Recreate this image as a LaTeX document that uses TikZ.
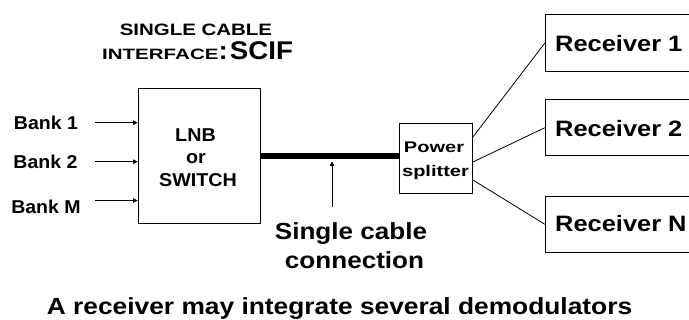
\documentclass[tikz,border=0pt]{standalone}
\usepackage{fontspec}
\setmainfont{Liberation Sans}
\usepackage{graphicx}
\usetikzlibrary{arrows.meta}
\newcommand\ftx[3]{\scalebox{#2}[1]{\fontsize{#1pt}{#1pt}\selectfont\bfseries #3}}
\begin{document}
\begin{tikzpicture}[x=1pt,y=-1pt,
  box/.style={draw=black, line width=0.8pt, inner sep=0pt},
  txt/.style={inner sep=0pt, anchor=base},
  conn/.style={line width=0.8pt},
  arr/.style={line width=0.8pt, -{Triangle[length=4.5pt,width=4.5pt]}},
  cable/.style={line width=5.3pt}]
\useasboundingbox (0,0) rectangle (689,320);
\clip (0,0) rectangle (689,320);

% boxes
\node[box, minimum width=122pt, minimum height=135pt] (lnb) at (199,155.5) {};
\node[box, minimum width=73.5pt, minimum height=70pt] (split) at (435.75,158) {};
\node[box, anchor=north west, minimum width=180pt, minimum height=57pt] (r1) at (545,14) {};
\node[box, anchor=north west, minimum width=180pt, minimum height=56.5pt] (r2) at (545,99) {};
\node[box, anchor=north west, minimum width=180pt, minimum height=56pt] (rn) at (545,196) {};

% title
\node[txt] (title1) at (196,35.5) {\ftx{16.5}{1.24}{SINGLE CABLE}};
\node[txt] (title2) at (197.5,59.5) {\ftx{15}{1.37}{INTERFACE}\ftx{25.6}{1.08}{:\hspace{2pt}SCIF}};

% bank labels
\node[txt] (bank1) at (46,129.7) {\ftx{18.6}{1.05}{Bank 1}};
\node[txt] (bank2) at (45.5,168.5) {\ftx{18.6}{1.05}{Bank 2}};
\node[txt] (bankm) at (46,213.5) {\ftx{18.6}{1.05}{Bank M}};

% LNB text
\node[txt] (lnb1) at (195.5,141.7) {\ftx{18.6}{1.06}{LNB}};
\node[txt] (lnb2) at (196,163.3) {\ftx{18.6}{1.06}{or}};
\node[txt] (lnb3) at (198,186.7) {\ftx{18.6}{1.06}{SWITCH}};

% splitter text
\node[txt] (sp1) at (434,152.7) {\ftx{15.4}{1.3}{Power}};
\node[txt] (sp2) at (435.5,176.7) {\ftx{15.4}{1.3}{splitter}};

% receiver text
\node[txt, anchor=base west] (rt1) at (555,51.7) {\ftx{22.3}{1.14}{Receiver 1}};
\node[txt, anchor=base west] (rt2) at (555,136.7) {\ftx{22.3}{1.14}{Receiver 2}};
\node[txt, anchor=base west] (rtn) at (555,231.7) {\ftx{22.3}{1.14}{Receiver N}};

% cable label
\node[txt] (cl1) at (351,240) {\ftx{23.3}{1.12}{Single cable}};
\node[txt] (cl2) at (354.5,268.3) {\ftx{23.3}{1.12}{connection}};

% bottom note
\node[txt, anchor=base west] (note) at (46.7,315) {\ftx{23.3}{1.13}{A receiver may integrate several demodulators}};

% connectors
\coordinate (b1) at (95,122.7);
\coordinate (b2) at (95,161.7);
\coordinate (bm) at (95,200.5);
\draw[arr] (b1) -- (b1 -| lnb.west);
\draw[arr] (b2) -- (b2 -| lnb.west);
\draw[arr] (bm) -- (bm -| lnb.west);

\coordinate (cab) at (300,156);
\draw[cable] (cab -| lnb.east) -- (cab -| split.west);

\coordinate (va) at (332,207);
\coordinate (vt) at (332,161.5);
\draw[arr] (va) -- (vt);

\draw[conn] (split.east |- 0,137) -- (r1.west);
\draw[conn] (split.east |- 0,162) -- (r2.west);
\draw[conn] (split.east |- 0,180) -- (rn.west);
\end{tikzpicture}
\end{document}
